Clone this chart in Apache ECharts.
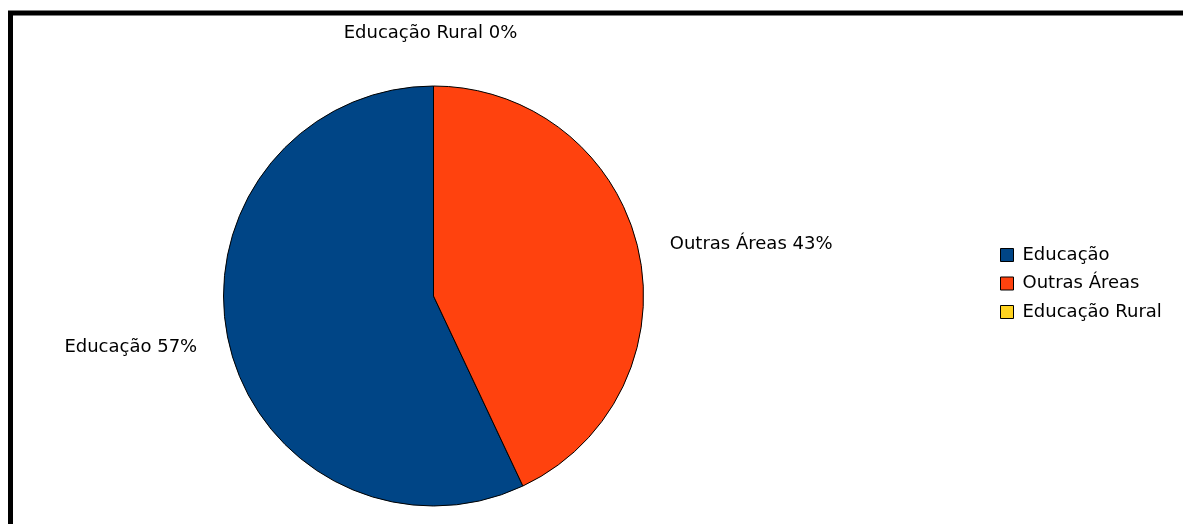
<!DOCTYPE html>
<html>
<head>
<meta charset="utf-8">
<title>Educação</title>
<script src="https://cdn.jsdelivr.net/npm/echarts@6/dist/echarts.min.js"></script>
<style>
  html, body { margin: 0; padding: 0; background: #ffffff; }
  #chart { width: 1183px; height: 524px; }
</style>
</head>
<body>
<div id="chart"></div>
<script>
// Share of spending by area (percent)
const categories = ['Educação', 'Outras Áreas', 'Educação Rural'];
const values = [57, 43, 0];
const colors = ['#004586', '#ff420e', '#ffd320'];

// Pie geometry
const CX = 433.5, CY = 296, R = 210;
const FONT = 'DejaVu Sans';

const chart = echarts.init(document.getElementById('chart'), null, { renderer: 'canvas' });

chart.setOption({
  animation: false,
  backgroundColor: '#ffffff',
  graphic: [{
    type: 'rect',
    shape: { x: 10.5, y: 13, width: 1400, height: 700 },
    style: { fill: 'none', stroke: '#000000', lineWidth: 5 },
    z: 10
  }],
  legend: {
    orient: 'vertical',
    left: 995,
    top: 241,
    itemWidth: 13,
    itemHeight: 13,
    itemGap: 10.5,
    icon: 'rect',
    data: categories,
    itemStyle: { borderColor: '#000000', borderWidth: 1 },
    textStyle: { fontFamily: FONT, fontSize: 18, color: '#000000', padding: [0, 0, 0, 4] }
  },
  series: [{
    type: 'pie',
    center: [CX, CY],
    radius: R,
    clockwise: false,
    startAngle: 90,
    avoidLabelOverlap: false,
    stillShowZeroSum: true,
    minShowLabelAngle: 0,
    itemStyle: { borderColor: '#000000', borderWidth: 1 },
    emphasis: { disabled: true },
    label: {
      show: true,
      position: 'outside',
      formatter: p => p.name + ' ' + p.value + '%',
      fontFamily: FONT,
      fontSize: 18,
      color: '#000000'
    },
    labelLine: { show: false, length: 27, length2: 0 },
    labelLayout: function (p) {
      if (p.dataIndex === 2) {
        return { x: CX - 3, y: CY - R - 53, align: 'center', verticalAlign: 'middle' };
      }
      return {};
    },
    data: categories.map((name, i) => ({
      name: name,
      value: values[i],
      itemStyle: { color: colors[i] }
    }))
  }]
});
</script>
</body>
</html>
